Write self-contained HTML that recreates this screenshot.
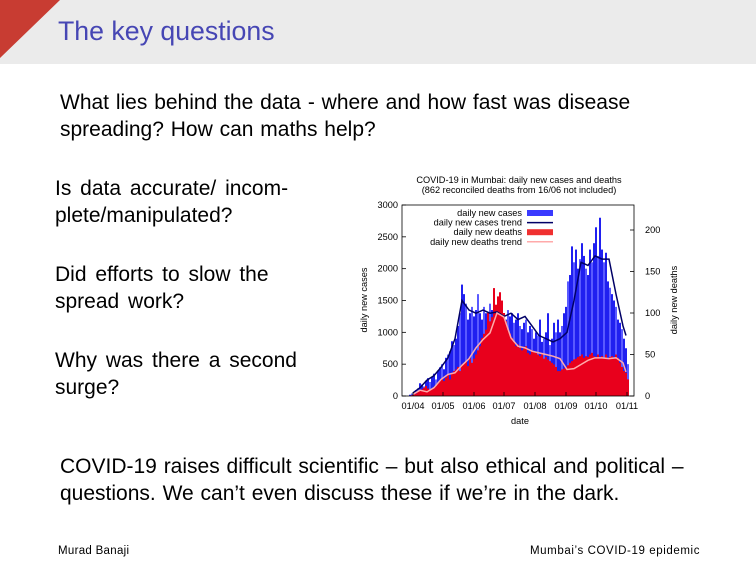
<!DOCTYPE html>
<html><head><meta charset="utf-8"><style>
body{margin:0;width:756px;height:567px;position:relative;background:#fff;font-family:"Liberation Sans",sans-serif;overflow:hidden}
.t{position:absolute;color:#000;font-size:21px;line-height:27px;white-space:nowrap;word-spacing:1px}
</style></head><body>
<div style="position:absolute;left:0;top:0;width:756px;height:64px;background:#ebebeb"></div>
<svg style="position:absolute;left:0;top:0" width="62" height="60"><polygon points="0,0 60,0 0,58" fill="#c83c32"/></svg>
<div style="position:absolute;left:58px;top:16px;font-size:26.7px;color:#4646b4">The key questions</div>
<div class="t" style="left:60px;top:89px">What lies behind the data - where and how fast was disease<br>spreading? How can maths help?</div>
<div class="t" style="left:55px;top:175px;word-spacing:3px">Is data accurate/ incom-<br>plete/manipulated?</div>
<div class="t" style="left:55px;top:261px;word-spacing:3px">Did efforts to slow the<br>spread work?</div>
<div class="t" style="left:55px;top:347px;word-spacing:3px">Why was there a second<br>surge?</div>
<div class="t" style="left:60px;top:453px">COVID-19 raises difficult scientific – but also ethical and political –<br>questions. We can’t even discuss these if we’re in the dark.</div>
<div style="position:absolute;left:58px;top:545px;font-size:11.5px;letter-spacing:0.3px">Murad Banaji</div>
<div style="position:absolute;left:530px;top:545px;font-size:11.5px;letter-spacing:0.6px">Mumbai’s COVID-19 epidemic</div>
<svg id="chart" style="position:absolute;left:0;top:0" width="756" height="567" font-family="Liberation Sans, sans-serif" font-size="9.2"></svg>
<script>
const casesDaily=[20,40,
60,90,120,200,180,150,240,280,220,300,350,260,400,450,500,
420,600,650,700,860,800,900,1100,1300,1750,1600,1450,1200,1300,1400,
1250,1350,1600,1300,1200,1400,1300,1250,1450,1350,1500,1300,1250,1400,1300,
1250,1200,1350,1250,1300,1150,1200,1300,1100,1050,1150,1200,1000,1100,1050,
900,1000,950,1200,850,900,1000,1300,800,900,1150,1000,1200,1000,1100,1300,
1400,1800,1900,2350,2100,2300,2000,2150,2400,2200,2000,1900,2300,2100,2400,
2650,2200,2800,2300,2100,2250,1800,1700,1600,1500,1400,1200,1150,1050,900,
750,500];
const deathsDaily=[0,1,
2,3,5,6,8,10,12,9,7,8,10,12,15,18,20,
18,22,25,20,28,30,32,35,30,38,40,42,36,45,40,
45,50,55,60,70,75,80,100,90,95,130,110,120,125,115,
100,90,80,75,70,65,60,62,58,55,57,60,52,50,55,
54,52,50,48,50,45,47,44,42,40,38,35,30,30,32,33,
35,37,40,42,44,45,47,48,50,46,48,47,50,52,48,
47,50,45,48,46,50,44,47,48,45,50,46,40,35,30,
28,20];
const trendDays=[0,7,14,21,28,35,42,49,56,63,70,77,84,91,98,105,112,119,126,133,140,147,154,161,168,175,182,189,196,203,210,213];
const casesTrend=[50,130,250,320,450,600,900,1500,1350,1300,1350,1300,1320,1250,1300,1200,1250,1100,950,900,850,900,1000,1500,2100,2050,2200,2150,2150,1600,1100,950];
const deathsTrend=[2,7,5,10,20,26,28,37,45,58,68,76,100,95,70,60,58,54,52,50,48,45,32,33,38,43,46,46,45,46,40,29];
const leftTicks=[0,500,1000,1500,2000,2500,3000];
const rightTicks=[0,50,100,150,200];
const dateTicks=["01/04","01/05","01/06","01/07","01/08","01/09","01/10","01/11"];
const dateTickDays=[0,30,61,91,122,153,183,214];

const svg=document.getElementById('chart');
const NS='http://www.w3.org/2000/svg';
const X0=402,X1=634,Y0=396,Y1=205;
const xd=d=>413+d;
const yc=v=>Y0-v*191/3000;
const yd=v=>Y0-v*0.83;
function mk(tag,attrs,text){const e=document.createElementNS(NS,tag);for(const k in attrs)e.setAttribute(k,attrs[k]);if(text!==undefined)e.textContent=text;svg.appendChild(e);return e;}
let e;
casesDaily.forEach((v,i)=>{const d=-3+2*i;
 e=mk('rect',{x:xd(d)-1,y:yc(v),width:2,height:Y0-yc(v),fill:(i%3==1)?'#5a5aff':'#2020f0'});
 
 });
deathsDaily.forEach((v,i)=>{const d=-3+2*i;
 e=mk('rect',{x:xd(d)-1,y:yd(v),width:2,height:Y0-yd(v),fill:'#e8001c'});
 
 });
e=mk('polyline',{points:trendDays.map((d,i)=>xd(d)+','+yc(casesTrend[i])).join(' '),fill:'none',stroke:'#000066','stroke-width':1.5});


e=mk('polyline',{points:trendDays.map((d,i)=>xd(d)+','+yd(deathsTrend[i])).join(' '),fill:'none',stroke:'#ffaaaa','stroke-width':1.5});


e=mk('rect',{x:X0,y:Y1,width:X1-X0,height:Y0-Y1,fill:'none',stroke:'#000','stroke-width':0.8});


leftTicks.forEach(v=>{const y=yc(v);
 mk('line',{x1:X0,x2:X0+4,y1:y,y2:y,stroke:'#000','stroke-width':0.8});
 e=mk('text',{x:X0-4,y:y+3,'text-anchor':'end'},v);
 
 });
rightTicks.forEach(v=>{const y=yd(v);
 mk('line',{x1:X1-4,x2:X1,y1:y,y2:y,stroke:'#000','stroke-width':0.8});
 e=mk('text',{x:X1+11,y:y+3,'text-anchor':'start'},v);
 
 });
dateTicks.forEach((t,i)=>{const x=xd(dateTickDays[i]);
 mk('line',{x1:x,x2:x,y1:Y0,y2:Y0-4,stroke:'#000','stroke-width':0.8});
 e=mk('text',{x:x,y:Y0+13,'text-anchor':'middle'},t);
 
 });
e=mk('text',{x:519,y:183,'text-anchor':'middle'},'COVID-19 in Mumbai: daily new cases and deaths');


e=mk('text',{x:519,y:193,'text-anchor':'middle'},'(862 reconciled deaths from 16/06 not included)');


e=mk('text',{x:520,y:424,'text-anchor':'middle'},'date');


e=mk('text',{x:367,y:300,'text-anchor':'middle',transform:'rotate(-90 367 300)'},'daily new cases');


e=mk('text',{x:677,y:300,'text-anchor':'middle',transform:'rotate(-90 677 300)'},'daily new deaths');


const leg=[['daily new cases','#3a3aff',1],['daily new cases trend','#000066',0],['daily new deaths','#f03030',1],['daily new deaths trend','#ffaaaa',0]];
leg.forEach((l,i)=>{const y=216+9.6*i;
 e=mk('text',{x:522,y:y,'text-anchor':'end'},l[0]);
 
 
 if(l[2]) mk('rect',{x:527,y:y-6,width:26,height:6,fill:l[1]});
 else mk('line',{x1:527,x2:553,y1:y-3,y2:y-3,stroke:l[1],'stroke-width':1.5});});
</script>
</body></html>
